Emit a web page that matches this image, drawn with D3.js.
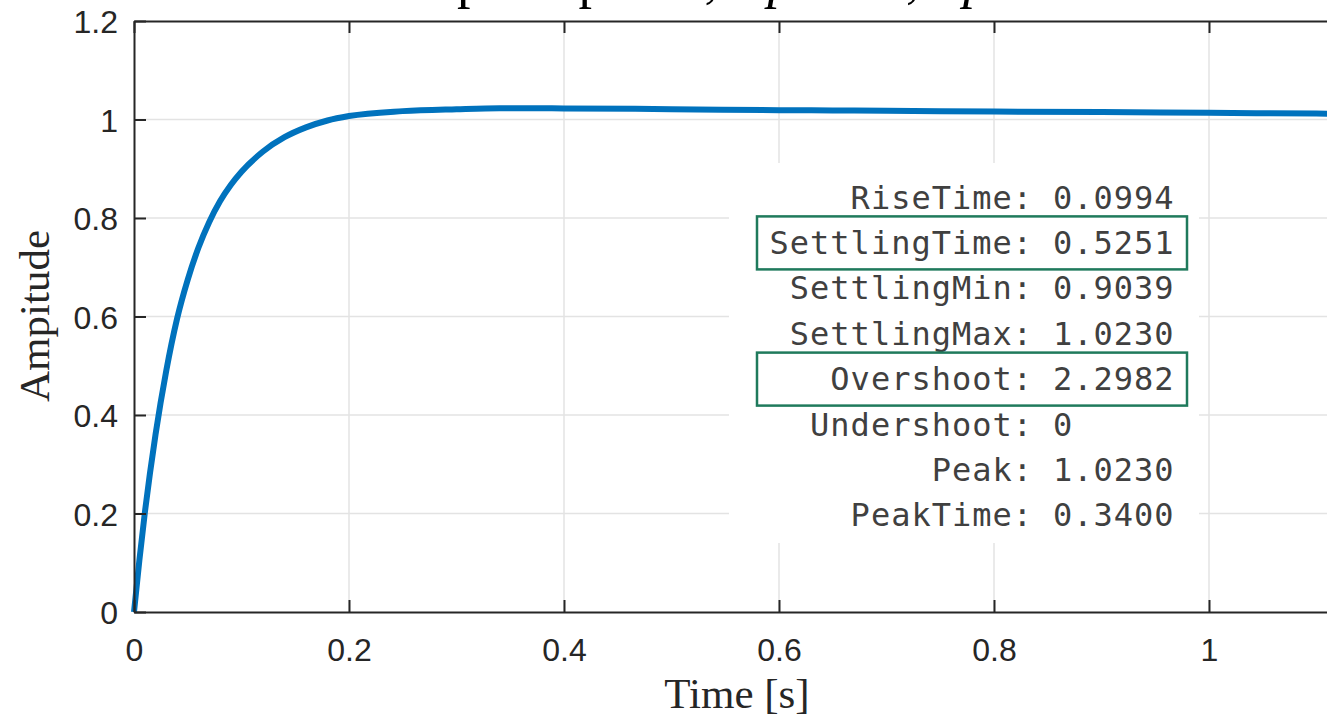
<!DOCTYPE html>
<html>
<head>
<meta charset="utf-8">
<script src="https://cdn.jsdelivr.net/npm/d3@7"></script>
<style>
  html, body { margin: 0; padding: 0; background: #fff; overflow: hidden; }
</style>
</head>
<body>
<svg id="step-chart" width="1327" height="717"></svg>
<script>
// step response
const timeS = [0, 0.005, 0.01, 0.02, 0.03, 0.04, 0.05, 0.06, 0.07, 0.08, 0.09, 0.10,
  0.12, 0.14, 0.16, 0.18, 0.20, 0.25, 0.30, 0.34, 0.40, 0.50, 0.60, 0.70, 0.80,
  0.90, 1.00, 1.10, 1.15];
const amplitude = [0, 0.105, 0.20, 0.36, 0.49, 0.595, 0.675, 0.74, 0.792, 0.834, 0.867, 0.894,
  0.935, 0.964, 0.984, 0.998, 1.007, 1.017, 1.021, 1.023, 1.0225, 1.021, 1.019, 1.018, 1.016,
  1.015, 1.0135, 1.012, 1.0115];

const xTicks = [0, 0.2, 0.4, 0.6, 0.8, 1];
const yTicks = [0, 0.2, 0.4, 0.6, 0.8, 1, 1.2];

const infoLabels = ["RiseTime", "SettlingTime", "SettlingMin", "SettlingMax",
  "Overshoot", "Undershoot", "Peak", "PeakTime"];
const infoValues = ["0.0994", "0.5251", "0.9039", "1.0230", "2.2982", "0", "1.0230", "0.3400"];
const highlighted = ["SettlingTime", "Overshoot"];

const svg = d3.select("#step-chart");

// axes box: x runs past the right edge of the window (picture is cropped)
const plotLeft = 134, plotBottom = 612, plotTop = 21;
const x = d3.scaleLinear().domain([0, 1.2]).range([plotLeft, plotLeft + 1.2 * 1075]);
const y = d3.scaleLinear().domain([0, 1.2]).range([plotBottom, plotTop]);

const axisColor = "#262626";
const gridColor = "#e3e3e3";

// grid
svg.append("g")
  .selectAll("line")
  .data(xTicks.filter((d) => d > 0))
  .enter()
  .append("line")
  .attr("x1", (d) => x(d)).attr("x2", (d) => x(d))
  .attr("y1", plotTop).attr("y2", plotBottom)
  .attr("stroke", gridColor).attr("stroke-width", 1.5);

svg.append("g")
  .selectAll("line")
  .data(yTicks.filter((d) => d > 0 && d < 1.2))
  .enter()
  .append("line")
  .attr("x1", plotLeft).attr("x2", 1327)
  .attr("y1", (d) => y(d)).attr("y2", (d) => y(d))
  .attr("stroke", gridColor).attr("stroke-width", 1.5);

// info panel background hides the grid
svg.append("rect")
  .attr("x", 729).attr("y", 163)
  .attr("width", 470).attr("height", 380)
  .attr("fill", "#fff");

// response curve
const line = d3.line()
  .x((d, i) => x(timeS[i]))
  .y((d) => y(d))
  .curve(d3.curveMonotoneX);

svg.append("path")
  .datum(amplitude)
  .attr("d", line)
  .attr("fill", "none")
  .attr("stroke", "#0072BD")
  .attr("stroke-width", 6)
  .attr("stroke-linejoin", "round");

// axes
const tickFont = "'Liberation Sans', Arial, sans-serif";

const xAxis = svg.append("g")
  .attr("transform", `translate(0,${plotBottom})`)
  .call(d3.axisBottom(x).tickValues(xTicks).tickSizeInner(-12).tickSizeOuter(0)
    .tickPadding(26).tickFormat(d3.format("~g")));

const xAxisTop = svg.append("g")
  .attr("transform", `translate(0,${plotTop})`)
  .call(d3.axisTop(x).tickValues(xTicks).tickSizeInner(-12).tickSizeOuter(0)
    .tickFormat(""));

const yAxis = svg.append("g")
  .attr("transform", `translate(${plotLeft},0)`)
  .call(d3.axisLeft(y).tickValues(yTicks).tickSizeInner(-12).tickSizeOuter(0)
    .tickPadding(16).tickFormat(d3.format("~g")));

[xAxis, xAxisTop, yAxis].forEach((g) => {
  g.select(".domain").attr("stroke", axisColor).attr("stroke-width", 2);
  g.selectAll(".tick line").attr("stroke", axisColor).attr("stroke-width", 2);
  g.selectAll(".tick text")
    .attr("fill", axisColor)
    .attr("font-family", tickFont)
    .attr("font-size", 32);
});
yAxis.selectAll(".tick text").attr("dy", "0.36em");
xAxis.selectAll(".tick text").attr("dy", "0.71em");

// axis labels
const serif = "'Liberation Serif', 'DejaVu Serif', serif";

svg.append("text")
  .attr("x", 737).attr("y", 708)
  .attr("text-anchor", "middle")
  .attr("font-family", serif)
  .attr("font-size", 43)
  .attr("fill", axisColor)
  .text("Time [s]");

svg.append("text")
  .attr("transform", "translate(49,316) rotate(-90)")
  .attr("text-anchor", "middle")
  .attr("font-family", serif)
  .attr("font-size", 43)
  .attr("fill", axisColor)
  .text("Ampitude");

// title, mostly cut off above the window
const title = svg.append("text")
  .attr("x", 388).attr("y", -3)
  .attr("font-family", serif)
  .attr("font-size", 54)
  .attr("fill", "#000");
title.append("tspan").text("Step Response, ");
title.append("tspan").attr("font-style", "italic").text("Kp");
title.append("tspan").text(" = 22, ");
title.append("tspan").attr("font-style", "italic").text("Tp");
title.append("tspan").text(" = 0.05");

// info panel
const rowY = d3.scalePoint()
  .domain(infoLabels)
  .range([197, 197 + 7 * 45.4]);

const mono = "'DejaVu Sans Mono', 'Liberation Mono', monospace";
const colonX = 1033, valueX = 1053;

const rows = svg.append("g")
  .selectAll("g")
  .data(infoLabels)
  .enter()
  .append("g")
  .attr("transform", (d) => `translate(0,${rowY(d)})`);

rows.append("text")
  .attr("x", colonX)
  .attr("dy", "0.36em")
  .attr("text-anchor", "end")
  .attr("font-family", mono)
  .attr("font-size", 32)
  .attr("letter-spacing", 1)
  .attr("fill", "#404040")
  .text((d) => d + ":");

rows.append("text")
  .attr("x", valueX)
  .attr("dy", "0.36em")
  .attr("font-family", mono)
  .attr("font-size", 32)
  .attr("letter-spacing", 1)
  .attr("fill", "#404040")
  .text((d, i) => infoValues[i]);

rows.filter((d) => highlighted.includes(d))
  .append("rect")
  .attr("x", 757).attr("y", -26)
  .attr("width", 430).attr("height", 53)
  .attr("fill", "none")
  .attr("stroke", "#1f7a5c")
  .attr("stroke-width", 2.5);
</script>
</body>
</html>
